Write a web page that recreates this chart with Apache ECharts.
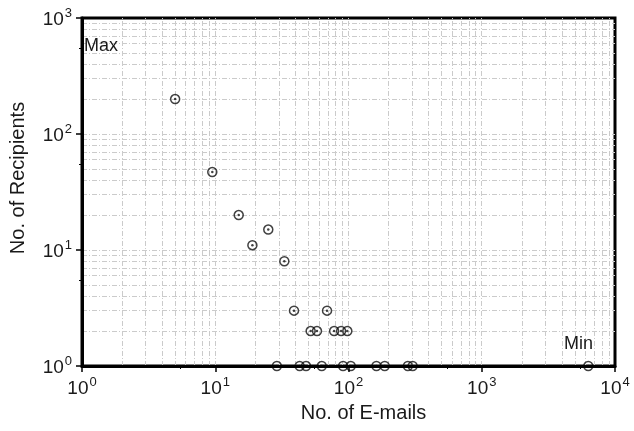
<!DOCTYPE html>
<html>
<head>
<meta charset="utf-8">
<script src="https://cdn.jsdelivr.net/npm/echarts@6/dist/echarts.min.js"></script>
<style>html,body{margin:0;padding:0;background:#fff}#c{width:634px;height:431px}</style>
</head>
<body>
<div id="c"></div>
<script>
// E-mails sent (x) vs number of recipients (y)
var emails     = [5, 9.5, 15, 25, 19, 33, 39, 69, 52, 58, 78, 88, 98, 29, 43, 48, 63, 91, 104, 162, 187, 279, 303, 6300];
var recipients = [200, 47, 20, 15, 11, 8, 3, 3, 2, 2, 2, 2, 2, 1, 1, 1, 1, 1, 1, 1, 1, 1, 1, 1];
var xGridValues = [2,3,4,5,6,7,8,9,10,20,30,40,50,60,70,80,90,100,200,300,400,500,600,700,800,900,1000,2000,3000,4000,5000,6000,7000,8000,9000];
var yGridValues = [2,3,4,5,6,7,8,9,10,20,30,40,50,60,70,80,90,100,200,300,400,500,600,700,800,900];
var xTitle = 'No. of E-mails';
var yTitle = 'No. of Recipients';
var maxLabel = 'Max';
var minLabel = 'Min';

var FONT = 'Liberation Sans';
var pts = emails.map(function (e, i) { return [e, recipients[i]]; });
var gridLineStyle = { color: '#cbcbcb', width: 1, type: [5, 2, 1, 2] };
var markData = xGridValues.map(function (v) { return { xAxis: v }; })
  .concat(yGridValues.map(function (v) { return { yAxis: v }; }));

function powLabel(v) {
  var e = Math.round(Math.log10(v));
  return '{b|10}{s|' + e + '}';
}
var rich = {
  b: { fontFamily: FONT, fontSize: 19, color: '#1a1a1a', lineHeight: 22, verticalAlign: 'bottom' },
  s: { fontFamily: FONT, fontSize: 13, color: '#1a1a1a', lineHeight: 22, verticalAlign: 'top', padding: [0, 0, 0, 1] }
};

var chart = echarts.init(document.getElementById('c'));
chart.setOption({
  animation: false,
  grid: { left: 79, right: 19, top: 18, bottom: 65, show: true, borderColor: '#000', borderWidth: 3, containLabel: false },
  xAxis: {
    type: 'log', logBase: 10, min: 1, max: 10000, z: 6,
    name: xTitle, nameLocation: 'middle', nameGap: 37,
    nameTextStyle: { fontFamily: FONT, fontSize: 20, color: '#1a1a1a', padding: [0, 0, 0, 30] },
    axisLine: { show: true, lineStyle: { color: '#000', width: 3 } },
    axisTick: { show: true, inside: false, length: 6, lineStyle: { color: '#000', width: 1.5 } },
    minorTick: { show: true, splitNumber: 2, length: 3, lineStyle: { color: '#000', width: 1 } },
    axisLabel: { margin: 10, formatter: powLabel, rich: rich },
    splitLine: { show: false }, minorSplitLine: { show: false }
  },
  yAxis: {
    type: 'log', logBase: 10, min: 1, max: 1000, z: 6,
    name: yTitle, nameLocation: 'middle', nameGap: 54, nameRotate: 90,
    nameTextStyle: { fontFamily: FONT, fontSize: 20, color: '#1a1a1a', padding: [0, 0, 0, 28] },
    axisLine: { show: true, lineStyle: { color: '#000', width: 3 } },
    axisTick: { show: true, inside: false, length: 6, lineStyle: { color: '#000', width: 1.5 } },
    minorTick: { show: true, splitNumber: 2, length: 3, lineStyle: { color: '#000', width: 1 } },
    axisLabel: { margin: 10, formatter: powLabel, rich: rich },
    splitLine: { show: false }, minorSplitLine: { show: false }
  },
  graphic: [
    { type: 'text', left: 84, top: 37, z: 10, style: { text: maxLabel, font: '18px "' + FONT + '"', fill: '#1a1a1a' } },
    { type: 'text', left: 564, top: 335, z: 10, style: { text: minLabel, font: '18px "' + FONT + '"', fill: '#1a1a1a' } }
  ],
  series: [
    {
      type: 'scatter', data: pts, symbol: 'circle', symbolSize: 9, z: 3,
      itemStyle: { color: 'rgba(255,255,255,0)', borderColor: '#111', borderWidth: 1.5 },
      markLine: { silent: true, symbol: ['none', 'none'], label: { show: false }, lineStyle: gridLineStyle, data: markData, z: 1 }
    },
    {
      type: 'scatter', data: pts, symbol: 'circle', symbolSize: 2.5, z: 4,
      itemStyle: { color: '#111' }
    }
  ]
});
</script>
</body>
</html>
